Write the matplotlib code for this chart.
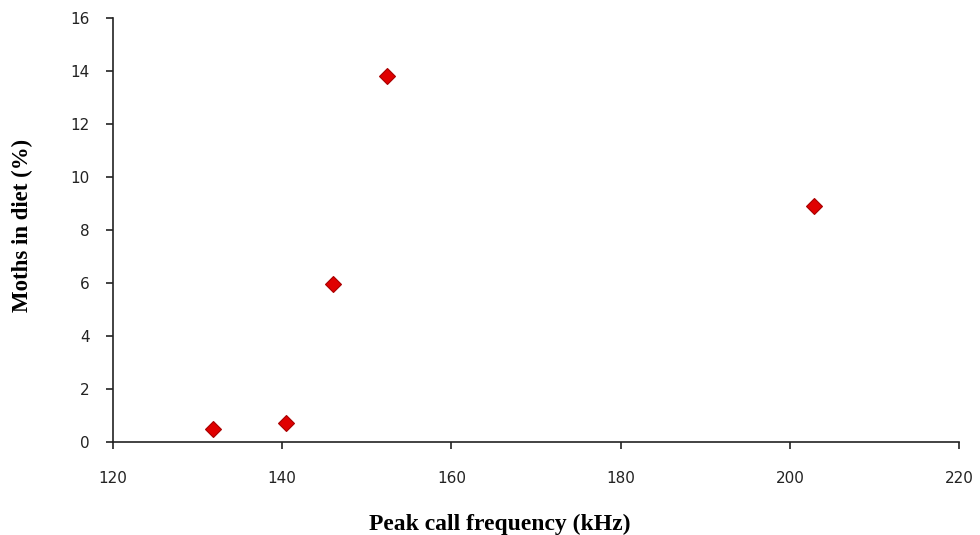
import matplotlib
matplotlib.use('Agg')
import matplotlib.pyplot as plt

# peak call frequency (kHz) vs moths in diet (%)
freq = [131.8, 140.5, 146.0, 152.4, 202.9]
moths = [0.5, 0.7, 5.95, 13.8, 8.9]

fig = plt.figure(figsize=(9.8, 5.35), dpi=100)
ax = fig.add_axes([0.1153, 0.1738, 0.8633, 0.7926])

ax.plot(freq, moths, linestyle='none', marker='D', markersize=8.5,
        markerfacecolor='#e00000', markeredgecolor='#a80000', markeredgewidth=0.8)

ax.set_xlim(120, 220)
ax.set_ylim(0, 16)
ax.set_xticks(range(120, 221, 20))
ax.set_yticks(range(0, 17, 2))

for s in ['top', 'right']:
    ax.spines[s].set_visible(False)
for s in ['left', 'bottom']:
    ax.spines[s].set_linewidth(1.2)
    ax.spines[s].set_color('#222222')

ax.tick_params(direction='out', length=5, width=1.2, colors='#222222', labelsize=11)
ax.tick_params(axis='x', pad=16)
ax.tick_params(axis='y', pad=12)
for lab in ax.get_xticklabels() + ax.get_yticklabels():
    lab.set_fontfamily('DejaVu Sans')
    lab.set_color('#222222')

# axis titles placed like the original (Excel-style layout)
fig.text(500 / 980, 1 - 524 / 535, 'Peak call frequency (kHz)', family='Liberation Serif',
         fontweight='bold', fontsize=17, ha='center', va='center')
fig.text(22 / 980, 1 - 225 / 535, 'Moths in diet (%)', family='Liberation Serif',
         fontweight='bold', fontsize=16.5, ha='center', va='center', rotation=90)

fig.savefig('out.png', dpi=100)
